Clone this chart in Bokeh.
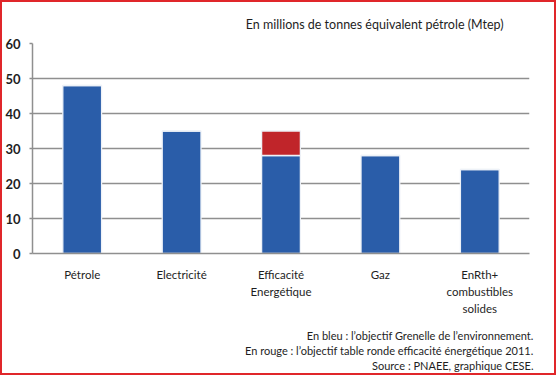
from bokeh.plotting import figure
from bokeh.models import Title, Range1d, FixedTicker, FactorRange, ColumnDataSource
from bokeh.embed import file_html
from bokeh.resources import INLINE

# ---- data ----
categories = ["Pétrole", "Electricité", "Efficacité\nEnergétique", "Gaz", "EnRth+\ncombustibles\nsolides"]
grenelle = [48, 35, 28, 28, 24]          # en bleu
table_ronde_extra = [0, 0, 7, 0, 0]      # en rouge (au-dessus du bleu)
y_ticks = [0, 10, 20, 30, 40, 50, 60]
subtitle = "En millions de tonnes équivalent pétrole (Mtep)"
notes = [
    "En bleu : l’objectif Grenelle de l’environnement.",
    "En rouge : l’objectif table ronde efficacité énergétique 2011.",
    "Source : PNAEE, graphique CESE.",
]

BLUE = "#2a5da9"
RED = "#c0252a"
GRID = "#8f8f8f"
TEXT = "#1e1e1e"
FONT = "Lato"

src = ColumnDataSource(dict(cat=categories, bleu=grenelle, rouge=table_ronde_extra))

p = figure(
    x_range=FactorRange(factors=categories, range_padding=0),
    y_range=Range1d(0, 60),
    width=556, height=375,
    output_backend="svg", toolbar_location=None,
    min_border_left=30, min_border_right=29, min_border_top=41, min_border_bottom=124,
)
p.outline_line_color = None
p.styles = {"border": "2px solid #e0262a"}

p.vbar_stack(["bleu", "rouge"], x="cat", width=0.39, source=src,
             fill_color=[BLUE, RED], line_color="#eef2f8", line_width=1.3)

# y axis
p.yaxis.ticker = FixedTicker(ticks=y_ticks)
p.yaxis.axis_line_color = GRID
p.yaxis.axis_line_width = 1.5
p.yaxis.major_tick_line_color = GRID
p.yaxis.major_tick_line_width = 1.5
p.yaxis.major_tick_out = 3
p.yaxis.major_tick_in = 0
p.yaxis.minor_tick_line_color = None
p.yaxis.major_label_standoff = 9
p.yaxis.major_label_text_font = FONT
p.yaxis.major_label_text_font_style = "bold"
p.yaxis.major_label_text_font_size = "13px"
p.yaxis.major_label_text_color = TEXT

p.ygrid.ticker = FixedTicker(ticks=y_ticks)
p.ygrid.grid_line_color = GRID
p.ygrid.grid_line_width = 1.5
p.xgrid.grid_line_color = None

# categorical x axis
xa = p.xaxis[0]
xa.axis_line_color = GRID
xa.axis_line_width = 1.5
xa.major_tick_line_color = None
xa.major_tick_out = 5
xa.major_tick_in = 0
xa.major_label_standoff = 9
xa.major_label_text_font = FONT
xa.major_label_text_font_size = "11.5px"
xa.major_label_text_color = TEXT
xa.major_label_text_line_height = 1.33
# small blank gap between the category labels and the notes
xa.axis_label = " "
xa.axis_label_text_font_size = "3px"
xa.axis_label_standoff = 2

# subtitle
p.add_layout(Title(text=subtitle, align="right", offset=26, standoff=23,
                   text_font=FONT, text_font_size="12.5px", text_font_style="normal",
                   text_color=TEXT), "above")

# footer notes
for n in notes:
    p.add_layout(Title(text=n, align="right", offset=-4, standoff=0,
                       text_font=FONT, text_font_size="11px", text_font_style="normal",
                       text_color=TEXT), "below")

open("out.html", "w").write(file_html(p, INLINE))
